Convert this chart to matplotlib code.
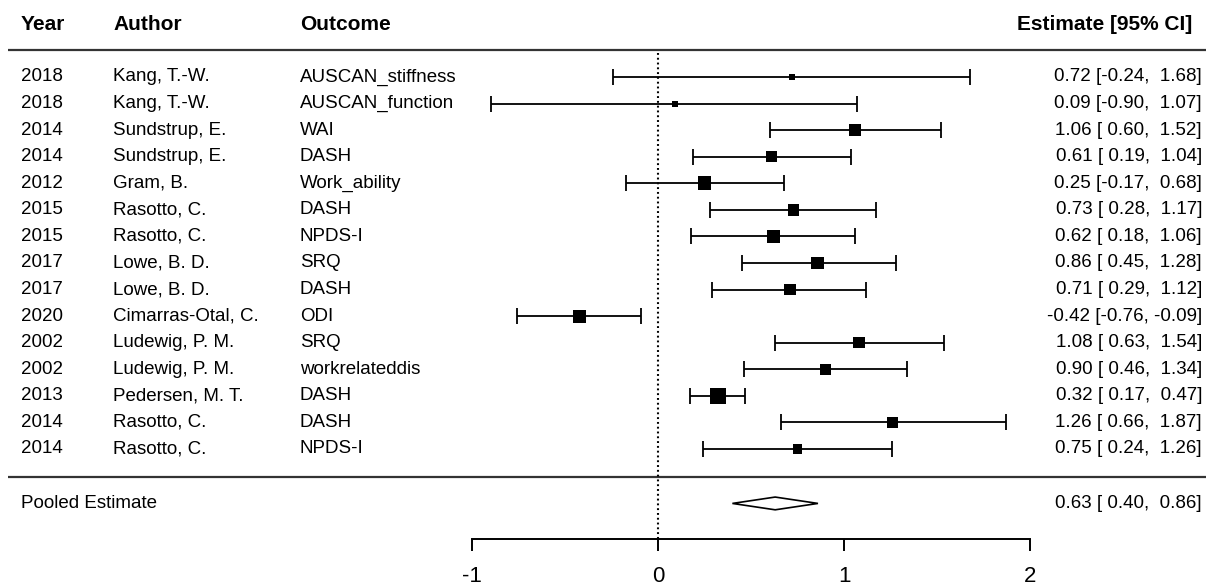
import matplotlib
matplotlib.use("Agg")
import matplotlib.pyplot as plt
import numpy as np

plt.rcParams['font.family'] = ['Liberation Sans', 'DejaVu Sans']
plt.rcParams['axes.unicode_minus'] = False

# study data
years = ["2018", "2018", "2014", "2014", "2012", "2015", "2015", "2017", "2017",
         "2020", "2002", "2002", "2013", "2014", "2014"]
authors = ["Kang, T.-W.", "Kang, T.-W.", "Sundstrup, E.", "Sundstrup, E.", "Gram, B.",
           "Rasotto, C.", "Rasotto, C.", "Lowe, B. D.", "Lowe, B. D.", "Cimarras-Otal, C.",
           "Ludewig, P. M.", "Ludewig, P. M.", "Pedersen, M. T.", "Rasotto, C.", "Rasotto, C."]
outcomes = ["AUSCAN_stiffness", "AUSCAN_function", "WAI", "DASH", "Work_ability",
            "DASH", "NPDS-I", "SRQ", "DASH", "ODI", "SRQ", "workrelateddis",
            "DASH", "DASH", "NPDS-I"]
est = [0.72, 0.09, 1.06, 0.61, 0.25, 0.73, 0.62, 0.86, 0.71, -0.42, 1.08, 0.90, 0.32, 1.26, 0.75]
lo = [-0.24, -0.90, 0.60, 0.19, -0.17, 0.28, 0.18, 0.45, 0.29, -0.76, 0.63, 0.46, 0.17, 0.66, 0.24]
hi = [1.68, 1.07, 1.52, 1.04, 0.68, 1.17, 1.06, 1.28, 1.12, -0.09, 1.54, 1.34, 0.47, 1.87, 1.26]
# relative weights (drive square size)
weights = [0.38, 0.38, 0.76, 0.69, 0.86, 0.71, 0.81, 0.81, 0.71, 0.81, 0.71, 0.71, 1.0, 0.67, 0.62]

pooled_est, pooled_lo, pooled_hi = 0.63, 0.40, 0.86
xticks = [-1, 0, 1, 2]

n = len(est)
rows = np.arange(1, n + 1)

fig = plt.figure(figsize=(12.06, 5.85), dpi=100)
ax = fig.add_axes([0, 0, 1, 1])
ax.set_xlim(-658 / 186, (1206 - 658) / 186)
ax.set_ylim(20.12, -1.898)

fs = 13.5
hfs = 15
x_year, x_auth, x_out, x_est = -3.425, -2.93, -1.925, 2.925
pooled_y = n + 2.05
axis_y = n + 3.4

# header
ax.text(x_year, -0.96, "Year", fontsize=hfs, fontweight='bold', va='center')
ax.text(x_auth, -0.96, "Author", fontsize=hfs, fontweight='bold', va='center')
ax.text(x_out, -0.96, "Outcome", fontsize=hfs, fontweight='bold', va='center')
ax.text(2.87, -0.96, "Estimate [95% CI]", fontsize=hfs, fontweight='bold', va='center', ha='right')

# horizontal rules
ax.plot([-3.495, 2.946], [0, 0], color='#333333', lw=1.6, solid_capstyle='butt')
ax.plot([-3.495, 2.946], [n + 1.05, n + 1.05], color='#333333', lw=1.6, solid_capstyle='butt')

# reference line at zero
ax.plot([0, 0], [0.1, axis_y], color='black', lw=1.5, ls=(0, (0.9, 1.4)))

# study rows
for i in range(n):
    y = rows[i]
    ax.text(x_year, y, years[i], fontsize=fs, va='center')
    ax.text(x_auth, y, authors[i], fontsize=fs, va='center')
    ax.text(x_out, y, outcomes[i], fontsize=fs, va='center')
    ax.text(x_est, y, f"{est[i]:.2f} [{lo[i]:5.2f}, {hi[i]:5.2f}]", fontsize=fs,
            va='center', ha='right')

err = [np.array(est) - np.array(lo), np.array(hi) - np.array(est)]
ax.errorbar(est, rows, xerr=err, fmt='none', ecolor='black', elinewidth=1.3,
            capsize=5.5, capthick=1.3)
side = np.array(weights) * 16 * 0.72
ax.scatter(est, rows, marker='s', s=side ** 2, color='black', linewidths=0, zorder=3)

# pooled estimate
ax.text(x_year, pooled_y, "Pooled Estimate", fontsize=fs, va='center')
h = 0.24
ax.fill([pooled_lo, pooled_est, pooled_hi, pooled_est],
        [pooled_y, pooled_y - h, pooled_y, pooled_y + h],
        facecolor='white', edgecolor='black', lw=1.2, zorder=3)
ax.text(x_est, pooled_y, f"{pooled_est:.2f} [{pooled_lo:5.2f}, {pooled_hi:5.2f}]",
        fontsize=fs, va='center', ha='right')

# x axis
for s in ['top', 'left', 'right']:
    ax.spines[s].set_visible(False)
ax.spines['bottom'].set_position(('data', axis_y))
ax.spines['bottom'].set_bounds(-1, 2)
ax.spines['bottom'].set_linewidth(1.4)
ax.set_xticks(xticks)
ax.set_xticklabels([str(t) for t in xticks])
ax.tick_params(axis='x', direction='out', length=8.5, width=1.4, pad=11, labelsize=16)
ax.set_yticks([])

fig.savefig("out.png", dpi=100)
